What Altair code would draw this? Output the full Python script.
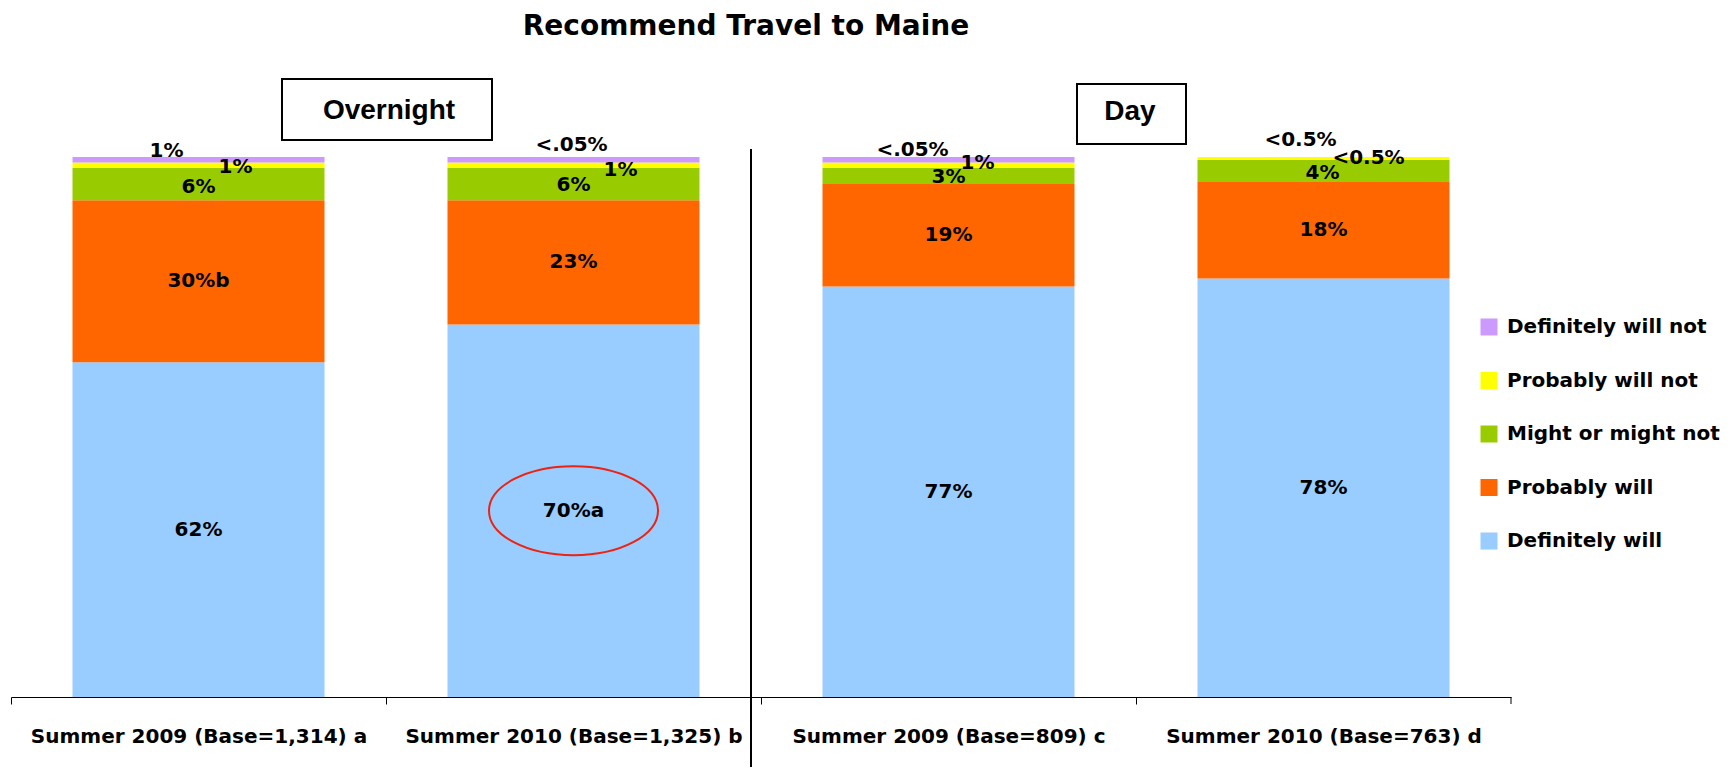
import altair as alt
import pandas as pd

# ---------------- data ----------------
periods = [
    "Summer 2009 (Base=1,314) a",
    "Summer 2010 (Base=1,325) b",
    "Summer 2009 (Base=809) c",
    "Summer 2010 (Base=763) d",
]
# stacked bottom -> top
responses = ["Definitely will", "Probably will", "Might or might not",
             "Probably will not", "Definitely will not"]
colors = ["#99CCFF", "#FF6600", "#99CC00", "#FFFF00", "#CC99FF"]

definitely_will = [62, 69, 76, 77.5]
probably_will = [30, 23, 19, 18]
might_or_might_not = [6, 6, 3, 4]
probably_will_not = [1, 1, 1, 0.5]
definitely_will_not = [1, 1, 1, 0]

labels_definitely_will = ["62%", "70%a", "77%", "78%"]
labels_probably_will = ["30%b", "23%", "19%", "18%"]
labels_might = ["6%", "6%", "3%", "4%"]
labels_probably_not = ["1%", "1%", "1%", "<0.5%"]
labels_definitely_not = ["1%", "<.05%", "<.05%", "<0.5%"]

panel_names = ["Overnight", "Day"]
title_text = ["Recommend Travel to Maine"]

values = [definitely_will, probably_will, might_or_might_not,
          probably_will_not, definitely_will_not]
labels = [labels_definitely_will, labels_probably_will, labels_might,
          labels_probably_not, labels_definitely_not]

rows = []
for i, p in enumerate(periods):
    cum = 0.0
    for j, r in enumerate(responses):
        v = values[j][i]
        rows.append(dict(period=p, pidx=i, response=r, order=j, value=v,
                         start=cum, end=cum + v, mid=cum + v / 2,
                         label=labels[j][i]))
        cum += v
df = pd.DataFrame(rows)

# ---------------- style ----------------
FONT = "DejaVu Sans"
BOX_FONT = "Liberation Sans"

# pixel nudges for the small-segment labels: (period index, response) -> (dx, dy)
nudges = {
    (0, "Definitely will not"): (-32, -9), (0, "Probably will not"): (37, 2), (0, "Might or might not"): (0, 3),
    (1, "Definitely will not"): (-2, -15), (1, "Probably will not"): (47, 5), (1, "Might or might not"): (0, 1),
    (2, "Definitely will not"): (-36, -10), (2, "Probably will not"): (29, -2), (2, "Might or might not"): (0, 1),
    (3, "Definitely will not"): (-23, -17), (3, "Probably will not"): (45, 0), (3, "Might or might not"): (-1, 2),
}

STEP = 375  # band step in px (1500 / 4)

xenc = alt.X(
    "period:N", sort=periods,
    scale=alt.Scale(domain=periods, paddingInner=0.328, paddingOuter=0.164),
    axis=alt.Axis(title=None, labelAngle=0, labelFont=FONT, labelFontSize=20,
                  labelFontWeight="bold", labelColor="black", labelLimit=500,
                  domainColor="black", tickColor="black", tickSize=7,
                  tickOffset=-STEP / 2, labelOffset=STEP / 2,
                  labelPadding=22, grid=False),
)
yscale = alt.Scale(domain=[0, 100], nice=False, zero=True)

bars = alt.Chart(df).mark_bar().encode(
    x=xenc,
    y=alt.Y("start:Q", scale=yscale, axis=None),
    y2="end:Q",
    color=alt.Color(
        "response:N",
        scale=alt.Scale(domain=responses[::-1], range=colors[::-1]),
        legend=alt.Legend(title=None, orient="none", legendX=1468, legendY=160,
                          symbolType="square", symbolSize=289, symbolStrokeWidth=0,
                          labelFont=FONT, labelFontSize=20, labelFontWeight="bold",
                          labelColor="black", rowPadding=33.5, labelOffset=8,
                          padding=0, labelLimit=500),
    ),
)

layers = [bars]

big = df[df["response"].isin(["Definitely will", "Probably will"])]
layers.append(
    alt.Chart(big).mark_text(font=FONT, fontSize=20, fontWeight="bold",
                             color="black", baseline="middle").encode(
        x=alt.X("period:N", sort=periods), y=alt.Y("mid:Q"), text="label:N")
)

for (pi, resp), (dx, dy) in nudges.items():
    sub = df[(df["pidx"] == pi) & (df["response"] == resp)]
    layers.append(
        alt.Chart(sub).mark_text(font=FONT, fontSize=20, fontWeight="bold",
                                 color="black", baseline="middle", dx=dx, dy=dy).encode(
            x=alt.X("period:N", sort=periods), y=alt.Y("mid:Q"), text="label:N")
    )

# red ellipse around the significant value
ellipse = df[(df["pidx"] == 1) & (df["response"] == "Definitely will")]
layers.append(
    alt.Chart(ellipse).mark_point(
        shape="M -1 0 A 1 0.527 0 1 1 1 0 A 1 0.527 0 1 1 -1 0 Z",
        size=28561, filled=False, color="#EE2211", strokeWidth=2, opacity=1,
    ).encode(x=alt.X("period:N", sort=periods), y=alt.Y("mid:Q"))
)

# closing tick at the right end of the axis
layers.append(
    alt.Chart(pd.DataFrame({"t": [0]})).mark_rule(color="black", strokeWidth=1).encode(
        x=alt.value(1500), y=alt.value(540), y2=alt.value(547))
)

# panel boxes
panels = pd.DataFrame({"name": panel_names})
box_geom = {"Overnight": (271, 481, -78, -17, 378, -46),
            "Day": (1066, 1175, -73, -13, 1119, -45)}
for name in panel_names:
    x0, x1, y0, y1, tx, ty = box_geom[name]
    sub = panels[panels["name"] == name]
    layers.append(
        alt.Chart(sub).mark_rect(fill="white", stroke="black", strokeWidth=2).encode(
            x=alt.value(x0), x2=alt.value(x1), y=alt.value(y0), y2=alt.value(y1))
    )
    layers.append(
        alt.Chart(sub).mark_text(font=BOX_FONT, fontSize=28, fontWeight="bold",
                                 color="black", baseline="middle", align="center").encode(
            x=alt.value(tx), y=alt.value(ty), text="name:N")
    )

# divider between Overnight and Day
layers.append(
    alt.Chart(panels.head(1)).mark_rule(color="black", strokeWidth=2).encode(
        x=alt.value(740), y=alt.value(-8), y2=alt.value(620))
)

# title
layers.append(
    alt.Chart(pd.DataFrame({"t": title_text})).mark_text(
        font=FONT, fontSize=28, fontWeight="bold", color="black",
        baseline="middle", align="center").encode(
        x=alt.value(735), y=alt.value(-130), text="t:N")
)

chart = alt.layer(*layers).properties(
    width=1500, height=540,
    autosize=alt.AutoSizeParams(type="none"),
    padding={"left": 3, "top": 149, "right": 210, "bottom": 70},
).configure_view(strokeWidth=0)

chart.save("out.html", embed_options={"renderer": "svg", "actions": False})
